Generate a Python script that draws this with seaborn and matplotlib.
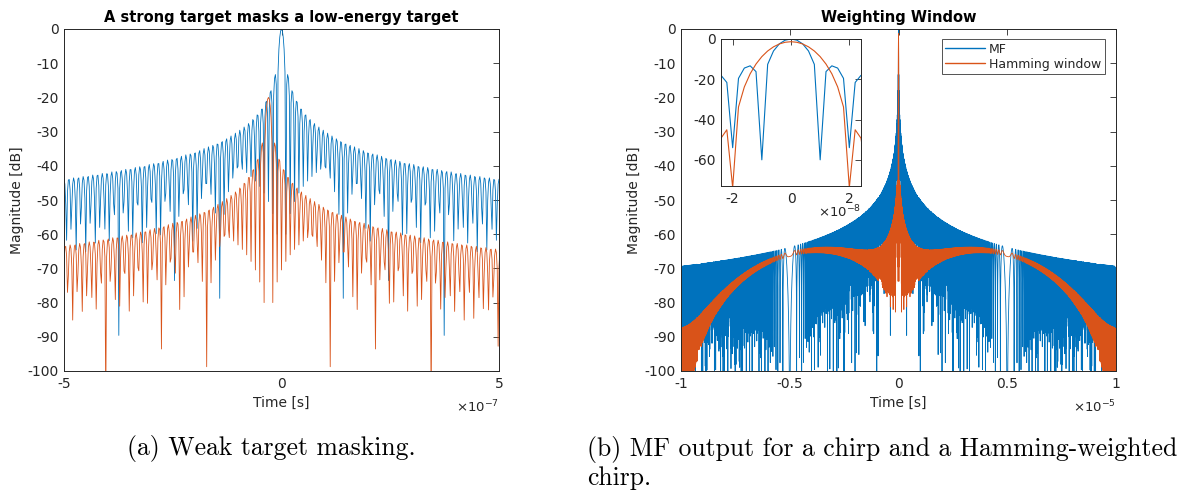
import numpy as np
import pandas as pd
import matplotlib
matplotlib.use("Agg")
import matplotlib.pyplot as plt
import seaborn as sns
from matplotlib.ticker import FuncFormatter, FixedLocator

# ---------------- values ----------------
chirp_duration = 1e-5          # s  (MF output spans -1e-5 .. 1e-5)
chirp_bandwidth = 1e8          # Hz (sinc nulls every 1e-8 s)
sample_rate = 5e8              # Hz (inset vertices every 2e-9 s)
target_delays = [0.0, -3e-8]   # strong target, weak target (s)
target_levels_db = [0.0, -20.0]

left_title = "A strong target masks a low-energy target"
right_title = "Weighting Window"
legend_labels = ["MF", "Hamming window"]
captions = ["(a) Weak target masking.",
            "(b) MF output for a chirp and a Hamming-weighted\nchirp."]

left_xlim = [-5e-7, 5e-7]
left_xticks = [-5e-7, 0.0, 5e-7]
right_xlim = [-1e-5, 1e-5]
right_xticks = [-1e-5, -0.5e-5, 0.0, 0.5e-5, 1e-5]
inset_xlim = [-2.4e-8, 2.4e-8]
inset_xticks = [-2e-8, 0.0, 2e-8]
inset_ylim = [-73, 0]
inset_yticks = [-60, -40, -20, 0]
main_ylim = [-100, 0]
main_yticks = list(range(-100, 1, 10))

blue = "#0072BD"
orange = "#D95319"

# ---------------- matched filter outputs ----------------
n = int(round(chirp_duration * sample_rate))
t = (np.arange(n) - (n - 1) / 2) / sample_rate
chirp = np.exp(1j * np.pi * (chirp_bandwidth / chirp_duration) * t ** 2)
window = np.hamming(n)
lags = np.arange(-(n - 1), n) / sample_rate
mf = np.abs(np.correlate(chirp, chirp, "full")) / n
ham = np.abs(np.correlate(chirp, chirp * window, "full")) / np.sqrt(n * np.sum(window ** 2))
mf_db = 20 * np.log10(mf + 1e-12)
ham_db = 20 * np.log10(ham + 1e-12)

df_mf = pd.DataFrame({"time": lags, "mag": mf_db})
df_ham = pd.DataFrame({"time": lags, "mag": ham_db})
sel = np.abs(lags) < 6e-7
df_strong = pd.DataFrame({"time": lags[sel] + target_delays[0],
                          "mag": mf_db[sel] + target_levels_db[0]})
df_weak = pd.DataFrame({"time": lags[sel] + target_delays[1],
                        "mag": mf_db[sel] + target_levels_db[1]})

# ---------------- figure ----------------
sns.set_theme(style="white")
plt.rcParams["font.family"] = ["DejaVu Sans"]
plt.rcParams["axes.unicode_minus"] = False
W, H = 1192, 493
fig = plt.figure(figsize=(W / 100, H / 100), dpi=100)
fig.patch.set_facecolor("white")

def box(l, r, top, bot):
    return [l / W, (H - bot) / H, (r - l) / W, (bot - top) / H]

ax1 = fig.add_axes(box(64, 499, 29, 371))
ax2 = fig.add_axes(box(681, 1116, 29, 371))
ax3 = fig.add_axes(box(721, 861, 39, 186))

axcol = "#262626"
def style(ax, xlim, xticks, ylim, yticks, scale, fs=10):
    ax.set_xlim(xlim)
    ax.set_ylim(ylim)
    ax.xaxis.set_major_locator(FixedLocator(xticks))
    ax.yaxis.set_major_locator(FixedLocator(yticks))
    ax.xaxis.set_major_formatter(FuncFormatter(lambda v, p: "%g" % round(v / scale, 6)))
    ax.yaxis.set_major_formatter(FuncFormatter(lambda v, p: "%g" % v))
    ax.tick_params(direction="in", length=4.5, width=0.6, colors=axcol,
                   labelsize=fs, top=True, right=True, pad=4,
                   labelcolor=axcol)
    for s in ax.spines.values():
        s.set_color(axcol)
        s.set_linewidth(0.7)
    ax.set_xlabel("")
    ax.set_ylabel("")
    ax.set_facecolor("white")

lw = 0.6
sns.lineplot(data=df_strong, x="time", y="mag", ax=ax1, color=blue, linewidth=lw,
             estimator=None, sort=False)
sns.lineplot(data=df_weak, x="time", y="mag", ax=ax1, color=orange, linewidth=lw,
             estimator=None, sort=False)
style(ax1, left_xlim, left_xticks, main_ylim, main_yticks, 1e-7)

sns.lineplot(data=df_mf, x="time", y="mag", ax=ax2, color=blue, linewidth=lw,
             estimator=None, sort=False, label=legend_labels[0])
sns.lineplot(data=df_ham, x="time", y="mag", ax=ax2, color=orange, linewidth=lw,
             estimator=None, sort=False, label=legend_labels[1])
style(ax2, right_xlim, right_xticks, main_ylim, main_yticks, 1e-5)

sns.lineplot(data=df_mf, x="time", y="mag", ax=ax3, color=blue, linewidth=0.8,
             estimator=None, sort=False)
sns.lineplot(data=df_ham, x="time", y="mag", ax=ax3, color=orange, linewidth=0.8,
             estimator=None, sort=False)
style(ax3, inset_xlim, inset_xticks, inset_ylim, inset_yticks, 1e-8)

for ax, title in [(ax1, left_title), (ax2, right_title)]:
    ax.set_title(title, fontsize=10.5, fontweight="bold", color="black", pad=5)
    ax.set_ylabel("Magnitude [dB]", fontsize=10, color=axcol, labelpad=2)
    ax.set_xlabel("Time [s]", fontsize=10, color=axcol, labelpad=4)

ax1.text(1.0, -0.105, r"$\times10^{-7}$", transform=ax1.transAxes, ha="right",
         va="center", fontsize=9.5, color=axcol)
ax2.text(1.0, -0.105, r"$\times10^{-5}$", transform=ax2.transAxes, ha="right",
         va="center", fontsize=9.5, color=axcol)
ax3.text(1.0, -0.175, r"$\times10^{-8}$", transform=ax3.transAxes, ha="right",
         va="center", fontsize=9.5, color=axcol)

leg = ax2.legend(loc="upper right", bbox_to_anchor=(0.975, 0.971), borderaxespad=0,
                 fancybox=False, frameon=True, fontsize=9, handlelength=3.2,
                 handletextpad=0.3, borderpad=0.3, labelspacing=0.15)
leg.get_frame().set_edgecolor(axcol)
leg.get_frame().set_linewidth(0.7)
for line in leg.get_lines():
    line.set_linewidth(1.0)

fig.text(271 / W, 1 - 448 / H, captions[0], family="cmr10", fontsize=18.5,
         ha="center", va="center", color="black")
fig.text(587 / W, 1 - 463 / H, captions[1], family="cmr10", fontsize=18.5,
         ha="left", va="center", color="black", linespacing=1.17)

fig.savefig("out.png", dpi=100, facecolor="white")
